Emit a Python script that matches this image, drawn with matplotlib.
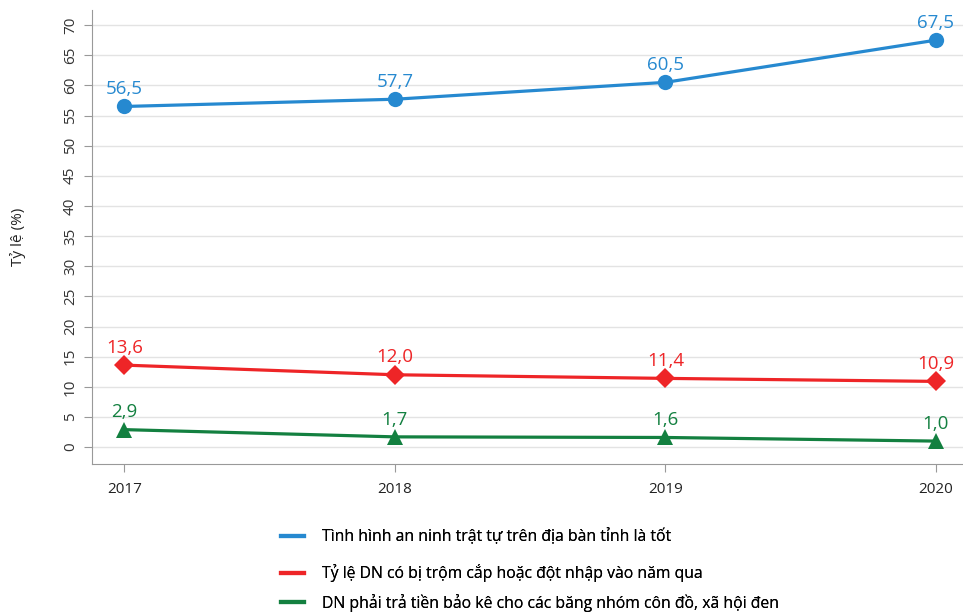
import matplotlib
matplotlib.use("Agg")
import matplotlib.pyplot as plt
from matplotlib.lines import Line2D

years = [2017, 2018, 2019, 2020]
s_an_ninh = [56.5, 57.7, 60.5, 67.5]
s_trom = [13.6, 12.0, 11.4, 10.9]
s_bao_ke = [2.9, 1.7, 1.6, 1.0]
names = ["Tình hình an ninh trật tự trên địa bàn tỉnh là tốt",
         "Tỷ lệ DN có bị trộm cắp hoặc đột nhập vào năm qua",
         "DN phải trả tiền bảo kê cho các băng nhóm côn đồ, xã hội đen"]
colors = ["#2689d0", "#ee2527", "#138040"]
markers = ["o", "D", "^"]
yticks = list(range(0, 75, 5))

plt.rcParams['font.family'] = ['Open Sans', 'DejaVu Sans']
fig = plt.figure(figsize=(9.63, 6.13), dpi=100)
ax = fig.add_axes([92/963, 1-464/613, 1-92/963, (464-10)/613])

for vals, c, m in zip([s_an_ninh, s_trom, s_bao_ke], colors, markers):
    ax.plot(years, vals, color=c, lw=2.3, marker=m, ms=11 if m != "D" else 10,
            markeredgewidth=0, zorder=3, clip_on=False)
    for x, v in zip(years, vals):
        ax.annotate(f"{v:.1f}".replace(".", ","), (x, v), xytext=(0, 6),
                    textcoords="offset points", ha="center", va="bottom",
                    color=c, fontsize=13.5)

ax.set_xlim(2016.88, 2020.10)
ax.set_ylim(-2.8, 72.5)
ax.set_yticks(yticks)
ax.set_yticklabels([str(t) for t in yticks], rotation=90, va="center", fontsize=11, color="#333333")
ax.set_xticks(years)
ax.set_xticklabels([str(y) for y in years], fontsize=11, color="#222222")
ax.grid(axis="y", color="#e3e3e3", lw=1)
ax.set_axisbelow(True)
for s in ["top", "right"]:
    ax.spines[s].set_visible(False)
for s in ["left", "bottom"]:
    ax.spines[s].set_color("#999999")
ax.tick_params(axis="both", color="#999999", length=6)
ax.tick_params(axis="x", pad=7)
ax.tick_params(axis="y", pad=4)
ax.set_ylabel("Tỷ lệ (%)", fontsize=11, color="#222222", labelpad=27)

legend_y = [537, 573, 603]
for name, c, yy in zip(names, colors, legend_y):
    lg = fig.legend([Line2D([0], [0], color=c, lw=3)], [name], loc="center left",
                    bbox_to_anchor=(273/963, 1-yy/613), frameon=False, fontsize=11.3,
                    handlelength=1.5, handletextpad=1.1, borderpad=0)
    fig.add_artist(lg)

fig.savefig("out.png", dpi=100)
